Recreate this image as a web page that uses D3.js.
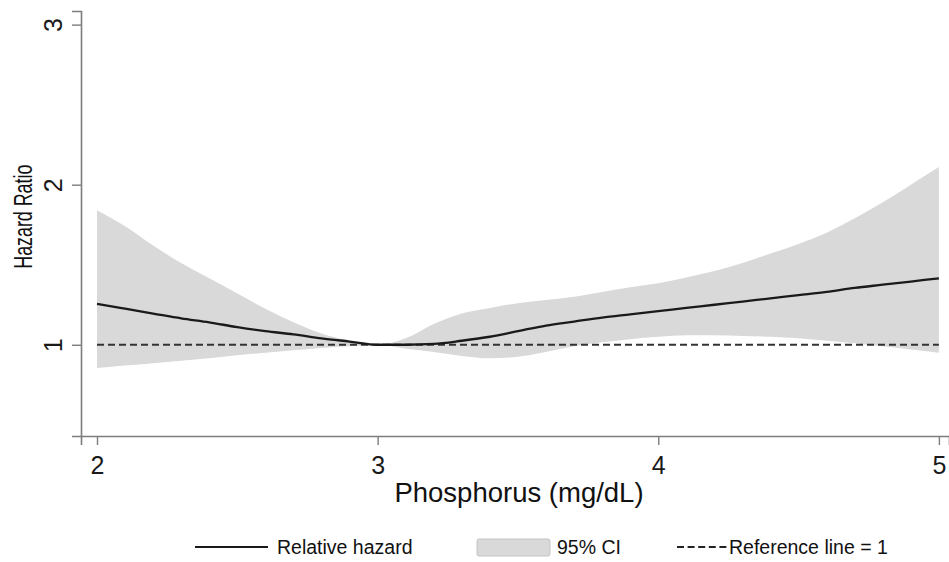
<!DOCTYPE html>
<html>
<head>
<meta charset="utf-8">
<script src="https://cdn.jsdelivr.net/npm/d3@7"></script>
<style>
  html, body { margin: 0; padding: 0; background: #fff; }
  svg { display: block; font-family: "Liberation Sans", Arial, sans-serif; }
</style>
</head>
<body>
<svg id="chart" width="949" height="562"></svg>
<script>
// ---- data ----
const phosphorus = [2.0,2.1,2.2,2.3,2.4,2.5,2.6,2.7,2.8,2.9,3.0,3.1,3.2,3.3,3.4,3.5,3.6,3.7,3.8,3.9,4.0,4.1,4.2,4.3,4.4,4.5,4.6,4.7,4.8,4.9,5.0];
const hazard = [1.255,1.225,1.195,1.165,1.14,1.11,1.085,1.065,1.04,1.02,1.0,1.0,1.005,1.025,1.05,1.085,1.12,1.145,1.17,1.19,1.21,1.23,1.25,1.27,1.29,1.31,1.33,1.355,1.375,1.395,1.415];
const ciUpper = [1.84,1.74,1.62,1.51,1.415,1.32,1.225,1.14,1.07,1.025,1.0,1.04,1.13,1.195,1.23,1.26,1.28,1.30,1.33,1.36,1.385,1.42,1.46,1.51,1.57,1.63,1.70,1.79,1.89,2.0,2.11];
const ciLower = [0.855,0.87,0.885,0.90,0.915,0.935,0.95,0.965,0.98,0.99,1.0,0.975,0.955,0.93,0.915,0.925,0.955,0.99,1.015,1.035,1.05,1.06,1.06,1.055,1.05,1.04,1.025,1.01,0.99,0.97,0.95];
const xTicks = [2,3,4,5];
const yTicks = [1,2,3];
const referenceValue = 1;
const xTitle = "Phosphorus (mg/dL)";
const yTitle = "Hazard Ratio";
const legendLabels = ["Relative hazard", "95% CI", "Reference line = 1"];

// ---- scales ----
const x = d3.scaleLinear().domain([1.943, 5.036]).range([81, 949]);
const y = d3.scaleLinear().domain([0.43, 3.085]).range([436, 11]);

const svg = d3.select("#chart");
const rows = phosphorus.map((p, i) => ({p, hr: hazard[i], lo: ciLower[i], hi: ciUpper[i]}));

// CI band
svg.append("path")
  .datum(rows)
  .attr("fill", "#d9d9d9")
  .attr("stroke", "none")
  .attr("d", d3.area().curve(d3.curveMonotoneX).x(d => x(d.p)).y0(d => y(d.lo)).y1(d => y(d.hi)));

// reference line
svg.append("line")
  .attr("x1", x(d3.min(phosphorus))).attr("x2", x(d3.max(phosphorus)))
  .attr("y1", y(referenceValue)).attr("y2", y(referenceValue))
  .attr("stroke", "#333").attr("stroke-width", 2.2)
  .attr("stroke-dasharray", "7,4");

// hazard line
svg.append("path")
  .datum(rows)
  .attr("fill", "none")
  .attr("stroke", "#1a1a1a")
  .attr("stroke-width", 2.3)
  .attr("d", d3.line().curve(d3.curveMonotoneX).x(d => x(d.p)).y(d => y(d.hr)));

// axes
const axisColor = "#7d7d7d";
const fontFam = "'Liberation Sans', Arial, sans-serif";
const xAxis = svg.append("g").attr("transform", `translate(0,${y.range()[0]})`)
  .call(d3.axisBottom(x).tickValues(xTicks).tickFormat(d3.format("d")).tickSize(9).tickPadding(11));
xAxis.select(".domain").attr("stroke", axisColor).attr("stroke-width", 1.6);
xAxis.selectAll(".tick line").attr("stroke", axisColor).attr("stroke-width", 1.4);
xAxis.selectAll(".tick text").attr("font-size", 25).attr("fill", "#1a1a1a").attr("font-family", fontFam);

const yAxis = svg.append("g").attr("transform", `translate(${x.range()[0]},0)`)
  .call(d3.axisLeft(y).tickValues(yTicks).tickFormat(d3.format("d")).tickSize(9));
yAxis.select(".domain").attr("stroke", axisColor).attr("stroke-width", 1.6);
yAxis.selectAll(".tick line").attr("stroke", axisColor).attr("stroke-width", 1.4);
yAxis.selectAll(".tick text")
  .attr("font-size", 25).attr("fill", "#1a1a1a").attr("font-family", fontFam)
  .attr("x", null).attr("dy", null)
  .attr("text-anchor", "middle")
  .attr("transform", "translate(-19,0) rotate(-90)");

// axis titles
svg.append("text")
  .attr("x", 519).attr("y", 502)
  .attr("text-anchor", "middle")
  .attr("font-size", 27.5).attr("fill", "#111")
  .text(xTitle);

svg.append("text")
  .attr("transform", `translate(32,${y(1.8)}) rotate(-90) scale(0.7,1)`)
  .attr("text-anchor", "middle")
  .attr("font-size", 25.5).attr("fill", "#111")
  .text(yTitle);

// legend
const ly = 547;
const leg = svg.append("g").attr("font-size", 19.5).attr("fill", "#111");
leg.append("line").attr("x1", 195).attr("x2", 268).attr("y1", ly).attr("y2", ly)
  .attr("stroke", "#1a1a1a").attr("stroke-width", 2.2);
leg.append("text").attr("x", 277).attr("y", ly + 7).text(legendLabels[0]);
leg.append("rect").attr("x", 477).attr("y", ly - 8).attr("width", 73).attr("height", 17)
  .attr("rx", 2).attr("fill", "#d9d9d9").attr("stroke", "#c4c4c4");
leg.append("text").attr("x", 557).attr("y", ly + 7).text(legendLabels[1]);
leg.append("line").attr("x1", 677).attr("x2", 728).attr("y1", ly).attr("y2", ly)
  .attr("stroke", "#222").attr("stroke-width", 2).attr("stroke-dasharray", "7,3.6");
leg.append("text").attr("x", 729).attr("y", ly + 7).text(legendLabels[2]);
</script>
</body>
</html>
